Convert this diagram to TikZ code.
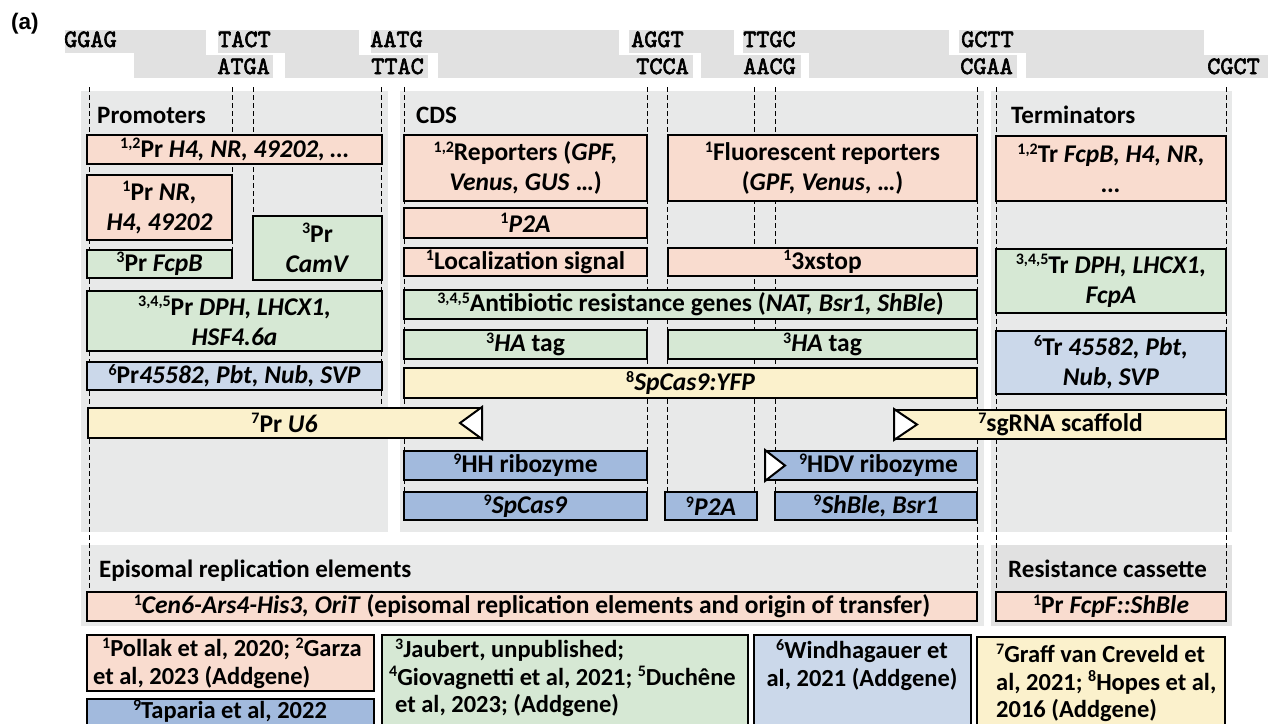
\documentclass[tikz,border=0pt]{standalone}
\usepackage{fontspec}
\setmainfont{Carlito}
\newfontfamily\panelfont{Liberation Sans}
\newfontfamily\seqfont{lmmono10-regular.otf}[FakeBold=2.5]
\usepackage{tikz}
\usetikzlibrary{calc}
\definecolor{pinkfill}{RGB}{249,220,207}
\definecolor{greenfill}{RGB}{214,232,212}
\definecolor{paleblue}{RGB}{203,216,234}
\definecolor{darkblue}{RGB}{162,186,221}
\definecolor{yellowfill}{RGB}{251,241,204}
\definecolor{panelgray}{RGB}{232,233,233}
\definecolor{cassgray}{RGB}{225,225,225}
\definecolor{strandgray}{RGB}{225,225,225}
\newcommand{\supn}[1]{\raisebox{8.5pt}{\fontsize{16}{16}\selectfont #1}}
% box from (x1,y1) to (x2,y2) in pixels, y downwards
\newcommand{\partbox}[7]{\node[part, fill=#6, minimum width={#4-#2}, minimum height={#5-#3}] (#1) at ({(#2+#4)/2},{(#3+#5)/2}) {#7};}
\newcommand{\refbox}[6]{\filldraw[refframe, fill=#6] (#2,#3) rectangle (#4,#5) coordinate (#1);}
\tikzset{
  part/.style={draw=black, line width=2pt, inner sep=0pt, align=center,
    font=\fontsize{25.5}{30}\selectfont\bfseries},
  refframe/.style={draw=black, line width=2pt},
  reftext/.style={inner sep=0pt, font=\fontsize{24.5}{27.5}\selectfont\bfseries},
  heading/.style={anchor=base west, inner sep=0pt, font=\fontsize{25}{30}\selectfont\bfseries},
  strand/.style={fill=strandgray, draw=white, line width=2pt},
  ohtop/.style={anchor=base west, inner sep=0pt, font=\seqfont\fontsize{25}{26}\selectfont},
  ohbot/.style={anchor=base east, inner sep=0pt, font=\seqfont\fontsize{25}{26}\selectfont},
  guide/.style={line width=0.9pt, dash pattern=on 5pt off 3pt},
  flag/.style={fill=white, draw=black, line width=2pt}
}

\begin{document}
\begin{tikzpicture}[x=1pt, y=-1pt]
            \useasboundingbox (0,0) rectangle (1268,723);
            \clip (0,0) rectangle (1268,723);
            \node[anchor=base west, inner sep=0pt, font=\panelfont\bfseries\fontsize{22.5}{24}\selectfont] (panellabel) at (11,29) {(a)};
            % overhang strands
            \foreach \ts/\te/\bs/\be in {64/207/133/274, 217/360/284/429, 370/620/437/694, 628/735/700/802, 742/950/808/1018, 958/1205/1025/1270}
              \filldraw[strand] (\ts,29) -- (\te,29) -- (\te,54) -- (\be,54) -- (\be,79) -- (\bs,79) -- (\bs,54) -- (\ts,54) -- cycle;
            \foreach \n/\s/\x in {t1/GGAG/64, t2/TACT/218, t3/AATG/370, t4/AGGT/631, t5/TTGC/743, t6/GCTT/961}
              \node[ohtop] (\n) at (\x,47) {\s};
            \foreach \n/\s/\x in {b1/ATGA/270, b2/TTAC/424, b3/TCCA/689, b4/AACG/796, b5/CGAA/1013, b6/CGCT/1260}
              \node[ohbot] (\n) at (\x,74) {\s};
            % panels
            \fill[panelgray] (81,91) rectangle (388,532);
            \fill[panelgray] (400,91) rectangle (984,532);
            \fill[panelgray] (991,91) rectangle (1232,532);
            \fill[panelgray] (81,545) rectangle (984,626);
            \fill[cassgray] (991,545) rectangle (1232,626);
            \node[heading] (promoters) at (97,123) {Promoters};
            \node[heading] (cds) at (416,123) {CDS};
            \node[heading] (terminators) at (1011,123) {Terminators};
            \node[heading] (episomal) at (99,577) {Episomal replication elements};
            \node[heading] (cassette) at (1008,577) {Resistance cassette};
            % cut sites
            \foreach \x/\yend in {89/592, 232/250, 253/216, 381/408, 404/492, 647/492, 667/492, 754/492, 775/492, 977/592, 996/592, 1226/592}
              \draw[guide] (\x,87) -- (\x,\yend);
            % promoters
            \partbox{prA}{87}{135}{382}{164}{pinkfill}{\supn{1,2}Pr \textit{H4, NR, 49202, …}}
            \partbox{prB}{87}{175}{232}{240}{pinkfill}{\supn{1}Pr \textit{NR,}\\\textit{H4, 49202}}
            \partbox{prC}{87}{250}{232}{278}{greenfill}{\supn{3}Pr \textit{FcpB}}
            \partbox{prD}{253}{216}{382}{280}{greenfill}{\supn{3}Pr\\\textit{CamV}}
            \partbox{prE}{87}{291}{382}{351}{greenfill}{\supn{3,4,5}Pr \textit{DPH, LHCX1,}\\\textit{HSF4.6a}}
            \partbox{prF}{87}{362}{382}{390}{paleblue}{\supn{6}Pr\textit{45582, Pbt, Nub, SVP}}
            \partbox{prU}{88}{408}{481}{438}{yellowfill}{\supn{7}Pr \textit{U6}}
            % CDS
            \partbox{cdsA}{404}{135}{647}{201}{pinkfill}{\supn{1,2}Reporters (\textit{GPF,}\\\textit{Venus, GUS} …)}
            \partbox{cdsB}{668}{135}{977}{201}{pinkfill}{\supn{1}Fluorescent reporters\\(\textit{GPF, Venus}, …)}
            \partbox{cdsC}{404}{208}{647}{238}{pinkfill}{\supn{1}\textit{P2A}}
            \partbox{cdsD}{404}{248}{647}{276}{pinkfill}{\supn{1}Localization signal}
            \partbox{cdsE}{668}{248}{977}{276}{pinkfill}{\supn{1}3xstop}
            \partbox{cdsF}{404}{290}{977}{319}{greenfill}{\supn{3,4,5}Antibiotic resistance genes (\textit{NAT, Bsr1, ShBle})}
            \partbox{cdsG}{404}{330}{647}{359}{greenfill}{\supn{3}\textit{HA} tag}
            \partbox{cdsH}{668}{330}{977}{359}{greenfill}{\supn{3}\textit{HA} tag}
            \partbox{cdsI}{404}{368}{977}{398}{yellowfill}{\supn{8}\textit{SpCas9:YFP}}
            \partbox{sgrna}{895}{410}{1226}{439}{yellowfill}{\supn{7}sgRNA scaffold}
            \partbox{hh}{404}{451}{647}{480}{darkblue}{\supn{9}HH ribozyme}
            \partbox{hdv}{766}{451}{977}{480}{darkblue}{\hspace*{14pt}\supn{9}HDV ribozyme}
            \partbox{cas}{404}{492}{647}{520}{darkblue}{\supn{9}\textit{SpCas9}}
            \partbox{ptwoa}{665}{492}{757}{520}{darkblue}{\supn{9}\textit{P2A}}
            \partbox{shble}{775}{492}{977}{520}{darkblue}{\supn{9}\textit{ShBle, Bsr1}}
            % direction flags
            \filldraw[flag] (prU.north east) -- ($(prU.east)+(-22,0)$) -- (prU.south east) -- cycle;
            \filldraw[flag] (sgrna.north west) -- ($(sgrna.west)+(23,0)$) -- (sgrna.south west) -- cycle;
            \filldraw[flag] (hdv.north west) -- ($(hdv.west)+(20,0)$) -- (hdv.south west) -- cycle;
            % terminators
            \partbox{trA}{996}{136}{1226}{201}{pinkfill}{\supn{1,2}Tr \textit{FcpB, H4, NR,}\\\textit{…}}
            \partbox{trB}{996}{249}{1226}{313}{greenfill}{\supn{3,4,5}Tr \textit{DPH, LHCX1,}\\\textit{FcpA}}
            \partbox{trC}{996}{331}{1226}{394}{paleblue}{\supn{6}Tr \textit{45582, Pbt,}\\\textit{Nub, SVP}}
            % episomal elements and cassette
            \partbox{ori}{87}{592}{977}{621}{pinkfill}{\supn{1}\textit{Cen6-Ars4-His3, OriT} (episomal replication elements and origin of transfer)}
            \partbox{shcass}{996}{592}{1226}{621}{pinkfill}{\supn{1}Pr \textit{FcpF::ShBle}}
            % references
            \refbox{refA}{87}{635}{374}{691}{pinkfill}
            \refbox{refB}{87}{699}{374}{740}{darkblue}
            \refbox{refC}{382}{635}{748}{740}{greenfill}
            \refbox{refD}{754}{635}{971}{740}{paleblue}
            \refbox{refE}{977}{637}{1225}{740}{yellowfill}
            \node[reftext, anchor=west, align=left] (pollak) at (93,663) {\hspace*{9pt}\supn{1}Pollak et al, 2020; \supn{2}Garza\\et al, 2023 (Addgene)};
            \node[reftext] (taparia) at (230,711) {\supn{9}Taparia et al, 2022};
            \node[reftext, anchor=west, align=left] (jaubert) at (389,678) {\hspace*{6pt}\supn{3}Jaubert, unpublished;\\\supn{4}Giovagnetti et al, 2021; \supn{5}Duchêne\\\hspace*{6pt}et al, 2023; (Addgene)};
            \node[reftext, align=center] (windhagauer) at (862,665) {\supn{6}Windhagauer et\\al, 2021 (Addgene)};
            \node[reftext, anchor=west, align=left] (graff) at (996,683) {\supn{7}Graff van Creveld et\\al, 2021; \supn{8}Hopes et al,\\2016 (Addgene)};
\end{tikzpicture}
\end{document}
